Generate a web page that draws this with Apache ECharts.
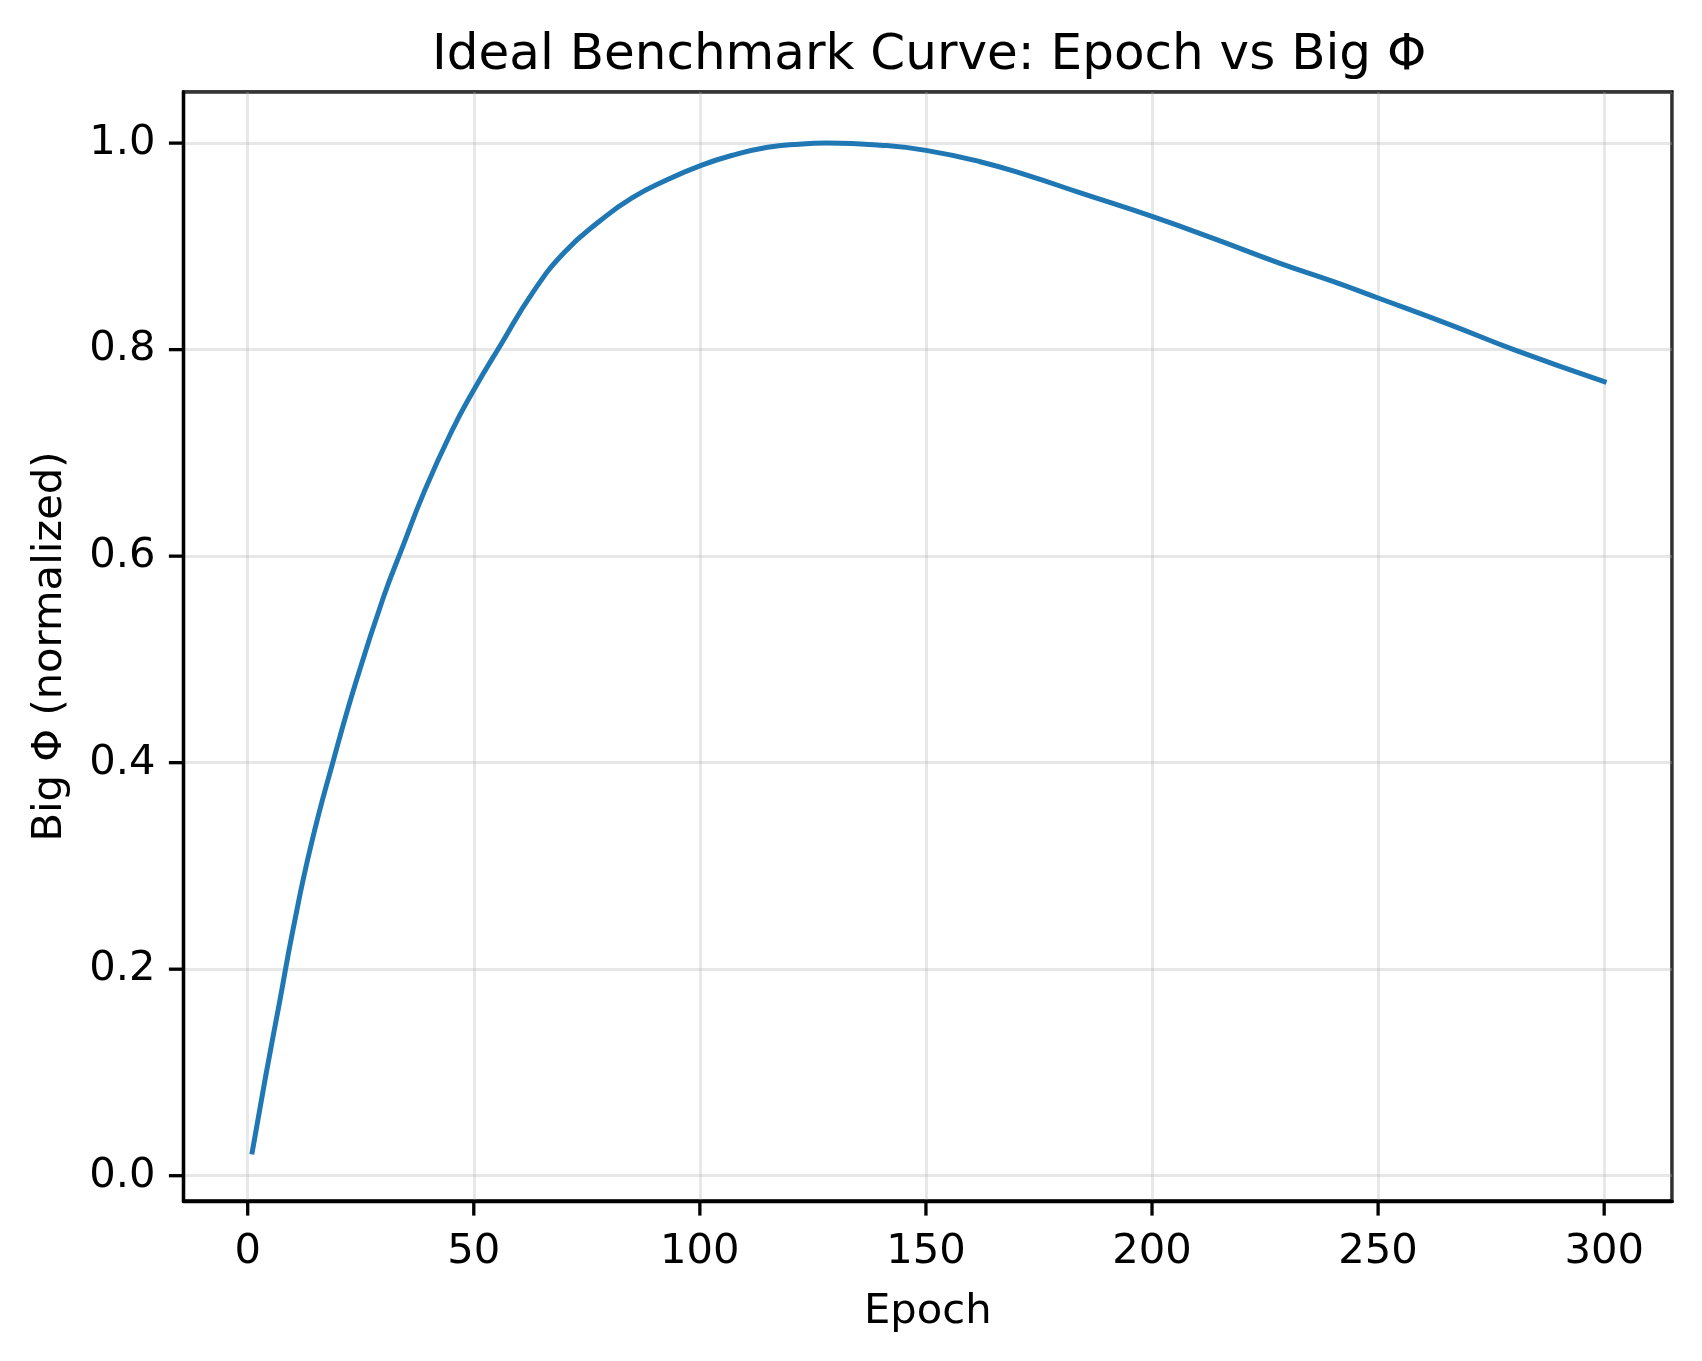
<!DOCTYPE html>
<html lang="en">

<head>
    <meta charset="UTF-8">
    <title>Ideal Benchmark Curve</title>
    <script src="https://cdn.jsdelivr.net/npm/echarts@6.0.0/dist/echarts.min.js"></script>
    <style>
        html, body { margin: 0; padding: 0; background: #fff; }
        #chart { width: 1702px; height: 1361px; }
    </style>
</head>

<body>
<div id="chart"></div>

<script>
    // values
    var epochs = [1, 4, 7, 10, 14, 19, 24, 30, 34, 39, 45, 50, 56, 63, 70, 78, 85, 93,
        100, 107, 115, 122, 128, 140, 150, 162, 173, 184, 200, 214, 228, 240, 250, 266, 280, 300]
    var bigPhi = [0.023, 0.097, 0.167, 0.238, 0.320, 0.403, 0.479, 0.560, 0.606, 0.662, 0.720,
        0.761, 0.805, 0.855, 0.894, 0.925, 0.947, 0.965, 0.978, 0.988, 0.996, 0.999, 1.0,
        0.998, 0.993, 0.982, 0.968, 0.952, 0.929, 0.907, 0.884, 0.866, 0.850, 0.824, 0.800, 0.769]
    var xTicks = [0, 50, 100, 150, 200, 250, 300]
    var yTicks = [0, 0.2, 0.4, 0.6, 0.8, 1.0]

    var font = 'DejaVu Sans'
    var tickLen = 14.6
    var xMin = -14.2, xMax = 315
    var yMin = -0.0245, yMax = 1.0495
    var points = epochs.map(function (e, i) {
        return [e, bigPhi[i]]
    })

    var gridLine = {
        show: true,
        lineStyle: { color: 'rgba(176,176,176,0.3)', width: 2.8 }
    }

    // outward tick marks, placed with the axes' own scale (api.coord)
    function tickSeries(data, horizontal) {
        return {
            type: 'custom',
            silent: true,
            clip: false,
            z: 10,
            data: data,
            renderItem: function (params, api) {
                var p = api.coord([api.value(0), api.value(1)])
                var shape = horizontal
                    ? { x1: p[0], y1: p[1], x2: p[0] - tickLen, y2: p[1] }
                    : { x1: p[0], y1: p[1], x2: p[0], y2: p[1] + tickLen }
                return {
                    type: 'line',
                    shape: shape,
                    style: { stroke: '#000', lineWidth: 3.3 }
                }
            }
        }
    }

    var mCharts = echarts.init(document.getElementById('chart'), null, { renderer: 'canvas' })
    var option = {
        animation: false,
        backgroundColor: '#fff',
        tooltip: { show: false },
        title: {
            text: 'Ideal Benchmark Curve: Epoch vs Big Φ',
            left: 427,   // centred over the plot area, not the page
            top: 26,
            textStyle: { fontFamily: font, fontSize: 50, fontWeight: 'normal', color: '#000' }
        },
        grid: {
            left: 183.5,
            right: 30,
            top: 92,
            bottom: 160,
            show: true,
            borderColor: '#000',
            borderWidth: 3.3
        },
        xAxis: {
            type: 'value',
            position: 'bottom',
            min: xMin,
            max: xMax,
            name: 'Epoch',
            nameLocation: 'middle',
            nameGap: 90,
            nameTextStyle: { fontFamily: font, fontSize: 41.7, color: '#000' },
            axisLine: { show: true, onZero: false, lineStyle: { color: '#000', width: 3.3 } },
            axisTick: { show: false },
            axisLabel: {
                customValues: xTicks,
                margin: 30,
                fontFamily: font,
                fontSize: 41.7,
                color: '#000'
            },
            splitLine: gridLine
        },
        yAxis: {
            type: 'value',
            position: 'left',
            min: yMin,
            max: yMax,
            name: 'Big Φ (normalized)',
            nameLocation: 'middle',
            nameGap: 112,
            nameTextStyle: { fontFamily: font, fontSize: 41.7, color: '#000' },
            axisLine: { show: true, onZero: false, lineStyle: { color: '#000', width: 3.3 } },
            axisTick: { show: false },
            axisLabel: {
                customValues: yTicks,
                margin: 28,
                fontFamily: font,
                fontSize: 41.7,
                color: '#000',
                formatter: function (v) {
                    return v.toFixed(1)
                }
            },
            splitLine: gridLine
        },
        series: [{
            type: 'line',
            data: points,
            smooth: 0.5,
            showSymbol: false,
            lineStyle: { color: '#1f77b4', width: 5, cap: 'square' }
        },
        tickSeries(xTicks.map(function (v) { return [v, yMin] }), false),
        tickSeries(yTicks.map(function (v) { return [xMin, v] }), true)]
    }
    mCharts.setOption(option)
</script>

</body>

</html>
